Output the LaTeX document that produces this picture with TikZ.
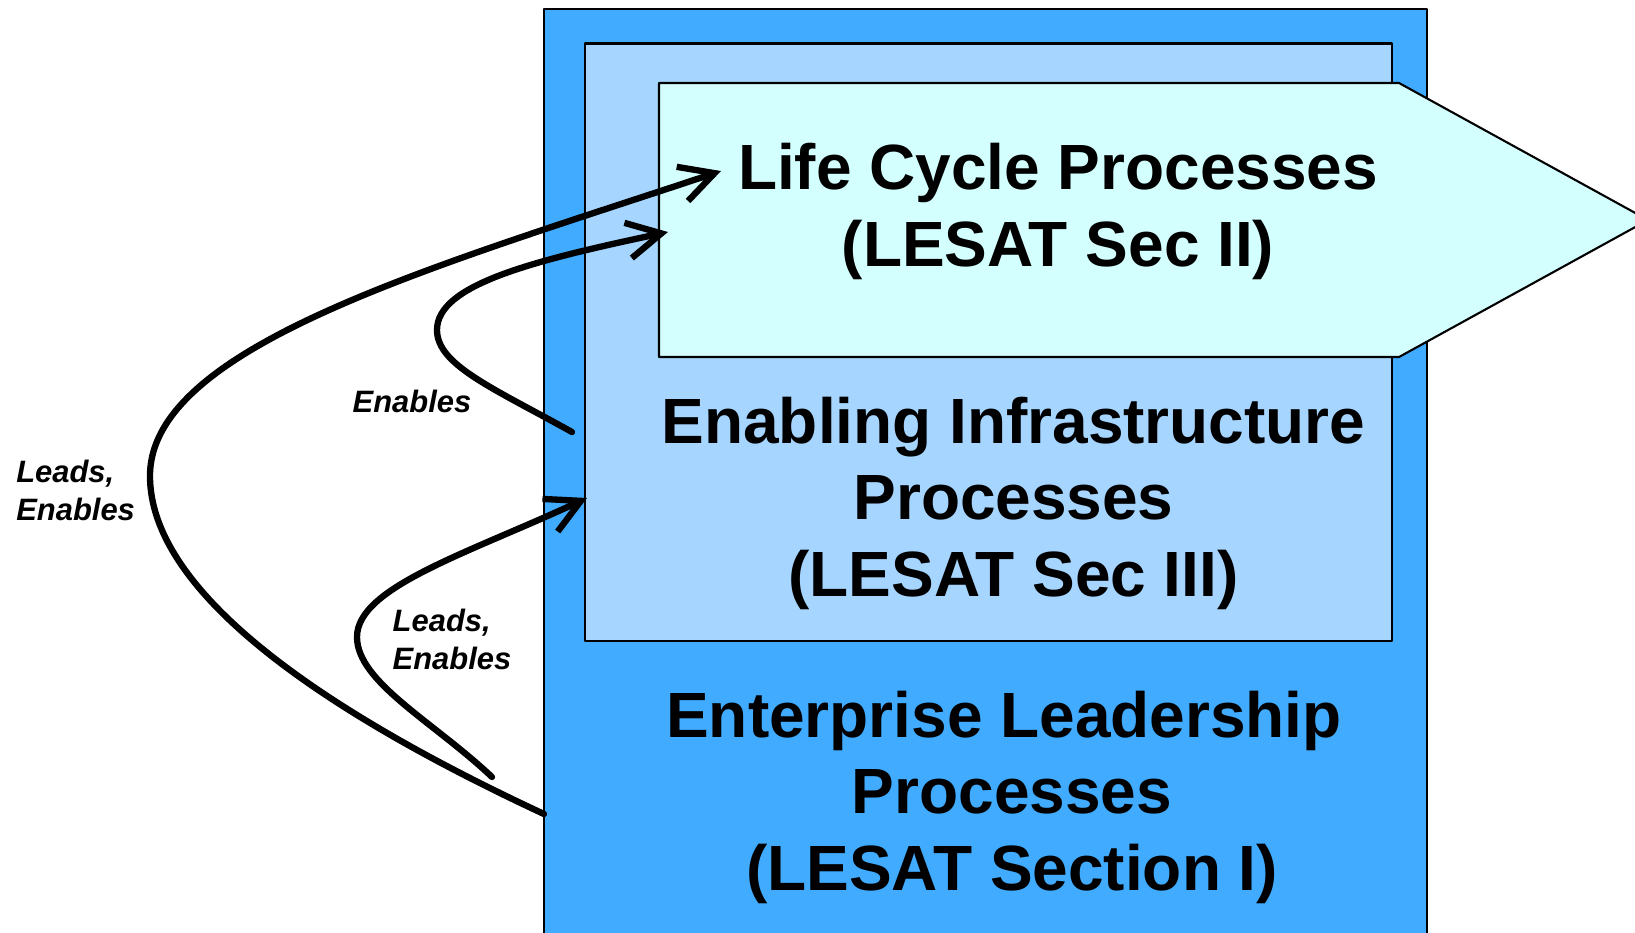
\documentclass[tikz,border=0pt]{standalone}
\usepackage{fontspec}
\setmainfont{Liberation Sans}
\usetikzlibrary{arrows.meta}
\definecolor{leadblue}{HTML}{40ABFF}
\definecolor{infrablue}{HTML}{A6D6FF}
\definecolor{cyclecyan}{HTML}{D4FFFF}
\begin{document}
\begin{tikzpicture}[line join=round, line cap=round, >={Straight Barb[length=3.4mm,width=3.6mm]},
	box/.style={draw=black, line width=0.6pt},
	big/.style={font=\bfseries\fontsize{18.2}{21.7}\selectfont, align=center, inner sep=0pt, anchor=base},
	small/.style={font=\bfseries\itshape\fontsize{8.8}{10.7}\selectfont, align=left, inner sep=0pt, anchor=base west},
	flow/.style={->, line width=1.8pt}]
	%Page.
	\useasboundingbox (0,0) rectangle (16.35,-9.32);
	\clip (0,0) rectangle (16.35,-9.32);
	%Boxes.
	\filldraw[box, fill=leadblue] (5.44,-0.09) rectangle (14.27,-9.60);
	\filldraw[box, fill=infrablue] (5.85,-0.435) rectangle (13.92,-6.41);
	\filldraw[box, fill=cyclecyan] (6.59,-0.83) -- (13.99,-0.83) -- (16.48,-2.20)
		-- (13.99,-3.57) -- (6.59,-3.57) -- cycle;
	%Ends of the arrows.
	\coordinate (leadA) at (5.44,-8.14);
	\coordinate (leadB) at (7.21,-1.71);
	\coordinate (enabA) at (5.72,-4.32);
	\coordinate (enabB) at (6.68,-2.32);
	\coordinate (infraA) at (4.92,-7.77);
	\coordinate (infraB) at (5.87,-4.98);
	%Arrows.
	\draw[flow] (leadA) .. controls (2.54,-6.79) and (1.50,-5.66) .. (1.50,-4.76)
		.. controls (1.50,-3.46) and (4.36,-2.66) .. (leadB);
	\draw[flow] (enabA) .. controls (4.93,-3.88) and (4.37,-3.65) .. (4.37,-3.30)
		.. controls (4.37,-2.85) and (5.31,-2.61) .. (enabB);
	\draw[flow] (infraA) .. controls (4.34,-7.22) and (3.57,-6.82) .. (3.57,-6.37)
		.. controls (3.57,-5.87) and (4.69,-5.53) .. (infraB);
	%Texts.
	\node[big] (cycle) at (10.58,-2.66) {Life Cycle Processes\\(LESAT Sec II)};
	\node[big] (infra) at (10.135,-5.96) {Enabling Infrastructure\\Processes\\(LESAT Sec III)};
	\node[big] (lead) at (10.12,-8.90) {Enterprise Leadership\kern0.16cm\\Processes\\(LESAT Section I)};
	\node[small] (enab) at (3.52,-4.12) {Enables};
	\node[small] (leadtxt) at (0.156,-5.205) {Leads,\\Enables};
	\node[small] (infratxt) at (3.92,-6.695) {Leads,\\Enables};
\end{tikzpicture}
\end{document}
